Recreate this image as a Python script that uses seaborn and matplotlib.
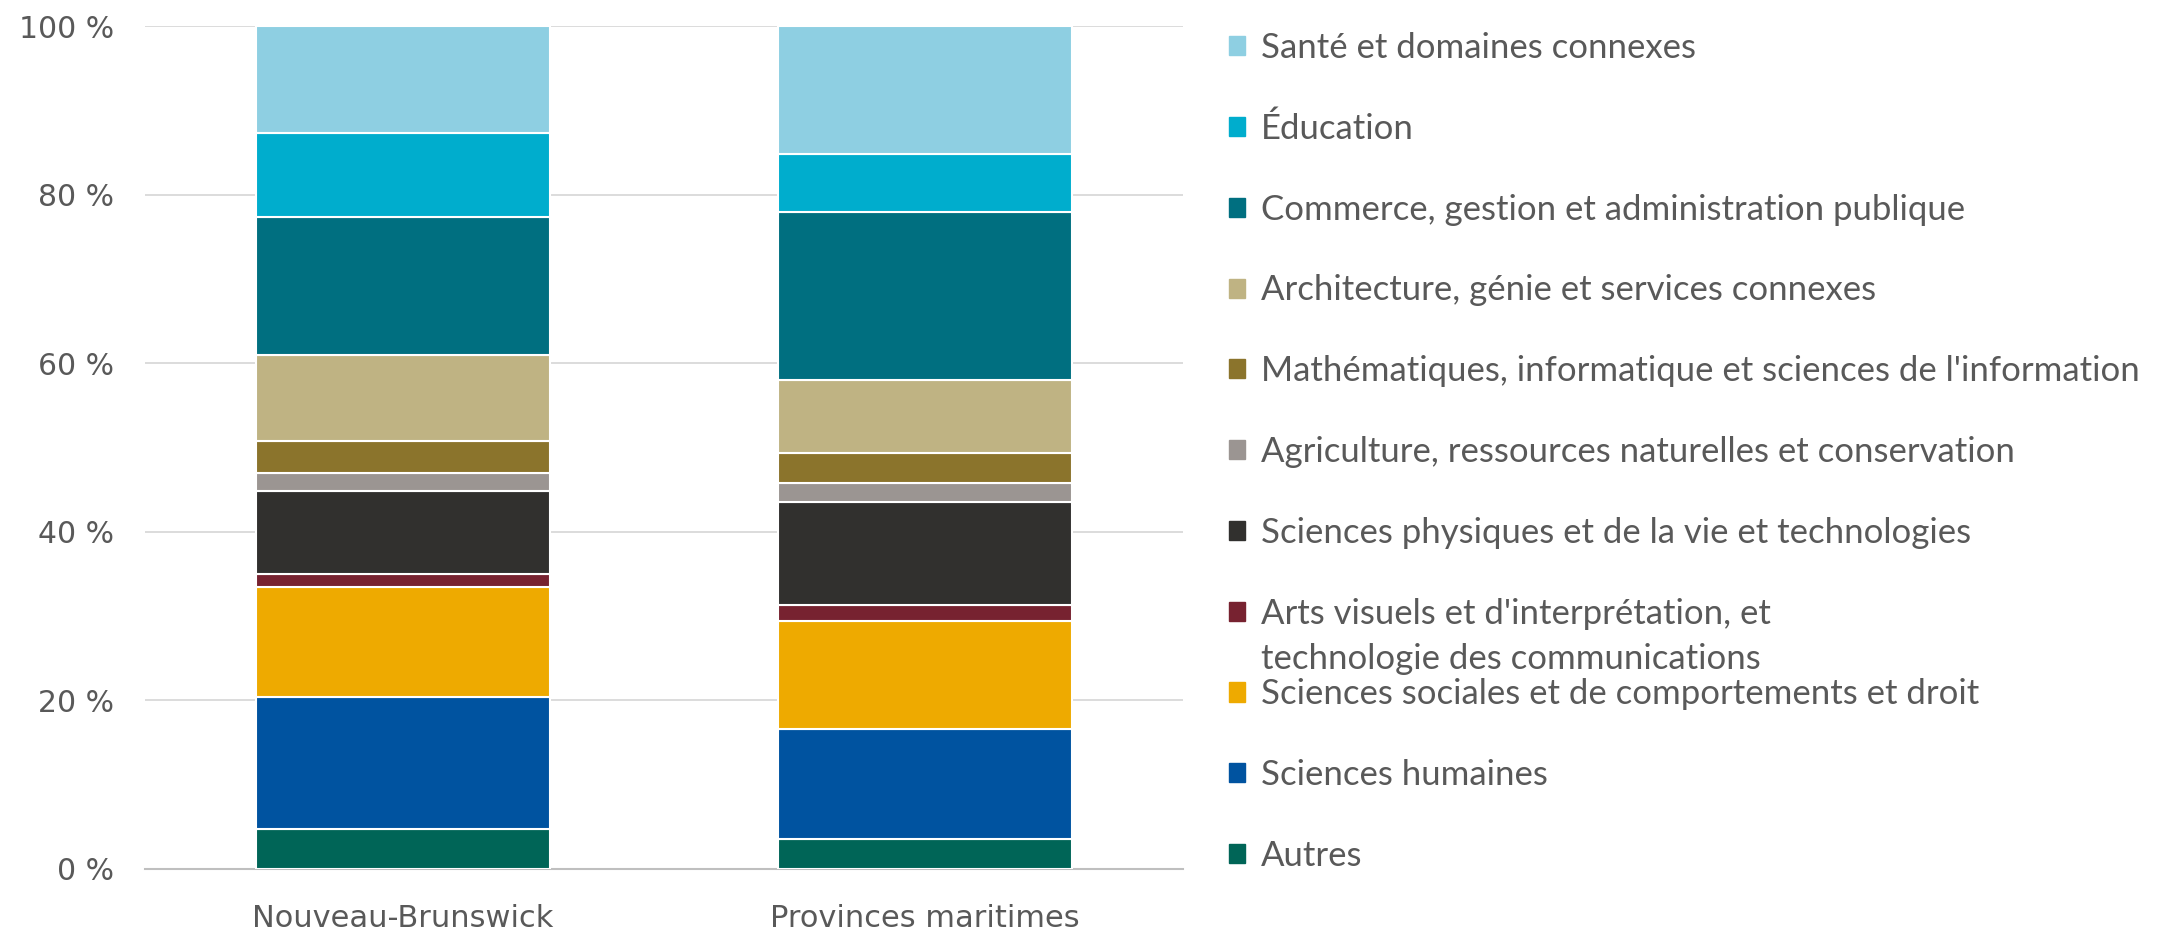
import numpy as np
import pandas as pd
import matplotlib
matplotlib.use("Agg")
import matplotlib.pyplot as plt
import seaborn as sns

# fields of study, bottom of the stack first
fields = [
    "Autres",
    "Sciences humaines",
    "Sciences sociales et de comportements et droit",
    "Arts visuels et d'interprétation, et technologie des communications",
    "Sciences physiques et de la vie et technologies",
    "Agriculture, ressources naturelles et conservation",
    "Mathématiques, informatique et sciences de l'information",
    "Architecture, génie et services connexes",
    "Commerce, gestion et administration publique",
    "Éducation",
    "Santé et domaines connexes",
]
regions = ["Nouveau-Brunswick", "Provinces maritimes"]
nb = [4.7, 15.7, 13.0, 1.65, 9.8, 2.1, 3.8, 10.2, 16.4, 9.95, 12.7]
pm = [3.5, 13.1, 12.8, 1.9, 12.2, 2.3, 3.6, 8.6, 19.9, 6.9, 15.2]
colors = ["#006557", "#0053A0", "#EEAA00", "#772230", "#31302E", "#9B9592",
          "#8B742C", "#BFB383", "#006F80", "#00ADCD", "#8ECFE2"]
yticks = [0, 20, 40, 60, 80, 100]

df = pd.DataFrame({"field": np.repeat(fields, 2),
                   "region": regions * len(fields),
                   "pct": [v for pair in zip(nb, pm) for v in pair]})

sns.set_style("white")
grey = "#595959"

fig = plt.figure(figsize=(21.62, 9.33), dpi=100)
ax = fig.add_axes([0.067, 0.0686, 0.48, 0.9034])

bottom = np.zeros(len(regions))
handles = []
for f, c in zip(fields, colors):
    sub = df[df["field"] == f]
    sns.barplot(data=sub, x="region", y="pct", order=regions, color=c,
                saturation=1, width=0.563, bottom=bottom, edgecolor="white",
                linewidth=1.5, zorder=3, ax=ax, errorbar=None)
    bottom = bottom + sub.set_index("region").loc[regions, "pct"].values
    handles.append(plt.Rectangle((0, 0), 1, 1, color=c))

ax.set_xlim(-0.494, 1.494)
ax.set_ylim(0, 100)
ax.set_yticks(yticks)
ax.set_yticklabels([f"{v} %" for v in yticks], fontsize=21.5, color=grey)
ax.tick_params(axis="x", labelsize=22, labelcolor=grey, length=0, pad=25)
ax.tick_params(axis="y", length=0, pad=22)
ax.set_xlabel("")
ax.set_ylabel("")
ax.yaxis.grid(True, color="#D9D9D9", linewidth=1.3, zorder=0)
for s in ["top", "right", "left"]:
    ax.spines[s].set_visible(False)
ax.spines["bottom"].set_color("#BFBFBF")
ax.spines["bottom"].set_linewidth(1.5)

labels = [f if not f.startswith("Arts") else "Arts visuels et d'interprétation, et"
          for f in fields]
leg = fig.legend(handles[::-1], labels[::-1], loc="upper left",
                 bbox_to_anchor=(0.562, 0.981), frameon=False,
                 prop={"family": "Lato", "size": 25},
                 handlelength=0.47, handleheight=0.47, handletextpad=0.46,
                 labelspacing=1.405, borderaxespad=0)
for t in leg.get_texts():
    t.set_color(grey)

fig.canvas.draw()
arts = [t for t in leg.get_texts() if t.get_text().startswith("Arts")][0]
bb = arts.get_window_extent().transformed(fig.transFigure.inverted())
fig.text(bb.x0, bb.y0 - 0.049, "technologie des communications",
         family="Lato", fontsize=25, color=grey, va="bottom", ha="left")

fig.savefig("out.png", dpi=100)
